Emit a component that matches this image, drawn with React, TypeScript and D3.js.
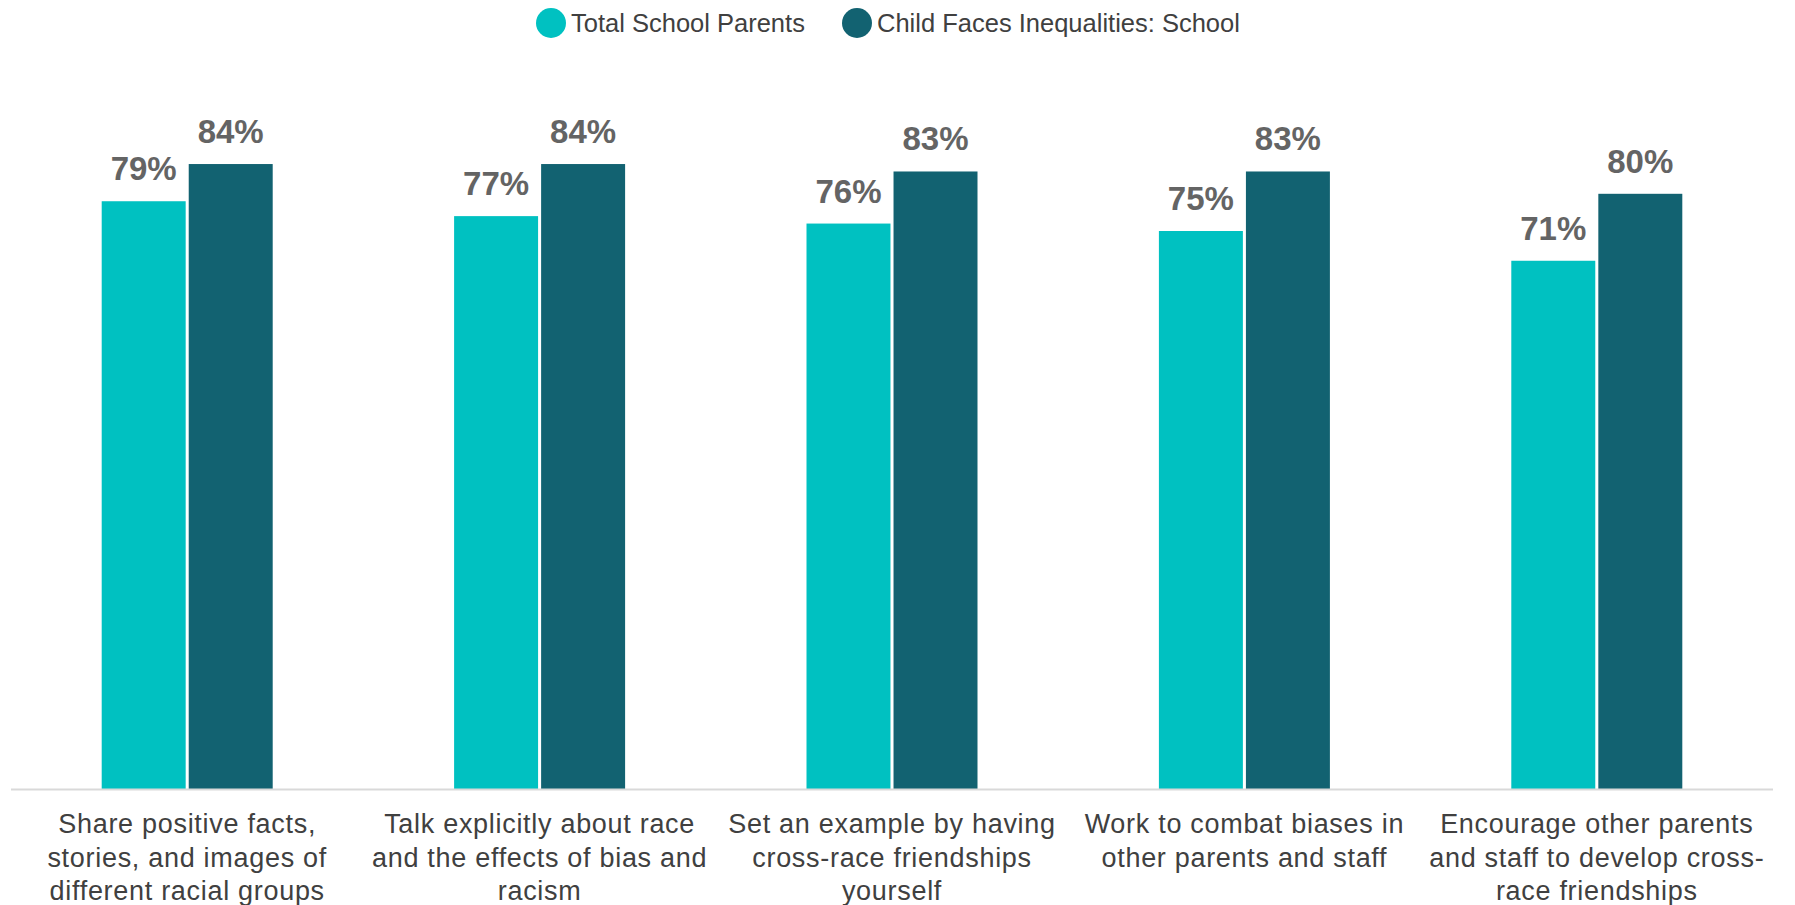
import React, { useEffect, useRef } from 'react'
import * as d3 from 'd3'

const categories = ['share', 'talk', 'example', 'combat', 'encourage']
const categoryLines: string[][] = [
  ['Share positive facts,', 'stories, and images of', 'different racial groups'],
  ['Talk explicitly about race', 'and the effects of bias and', 'racism'],
  ['Set an example by having', 'cross-race friendships', 'yourself'],
  ['Work to combat biases in', 'other parents and staff'],
  ['Encourage other parents', 'and staff to develop cross-', 'race friendships']
]
const seriesNames = ['Total School Parents', 'Child Faces Inequalities: School']
const totalSchool = [79, 77, 76, 75, 71]
const childFaces = [84, 84, 83, 83, 80]
const colors = ['#00c1c1', '#126271']

const W = 1795
const H = 905

const Chart = () => {
  const ref = useRef<SVGSVGElement>(null)

  useEffect(() => {
    const svg = d3.select(ref.current)
    svg.selectAll('*').remove()

    const baseY = 789
    const y = d3.scaleLinear().domain([0, 100]).range([baseY, baseY - 744])
    const x0 = d3.scaleBand<string>().domain(categories).range([11, 1773]).padding(0)
    const groupW = 171
    const x1 = d3.scaleBand<number>().domain([0, 1]).range([0, groupW]).paddingInner(0.035)

    const series = [totalSchool, childFaces]

    const groups = svg
      .append('g')
      .selectAll('g')
      .data(categories)
      .join('g')
      .attr('transform', d => `translate(${(x0(d) ?? 0) + (x0.bandwidth() - groupW) / 2},0)`)

    groups.each(function (cat, i) {
      const g = d3.select(this)
      series.forEach((vals, s) => {
        const v = vals[i]
        g.append('rect')
          .attr('x', x1(s) ?? 0)
          .attr('y', y(v))
          .attr('width', x1.bandwidth())
          .attr('height', baseY - y(v))
          .attr('fill', colors[s])
        g.append('text')
          .attr('x', (x1(s) ?? 0) + x1.bandwidth() / 2)
          .attr('y', y(v) - 21)
          .attr('text-anchor', 'middle')
          .attr('font-family', 'Liberation Sans, Arial, sans-serif')
          .attr('font-weight', 'bold')
          .attr('font-size', 33)
          .attr('fill', '#646464')
          .text(`${v}%`)
      })
    })

    // axis line
    svg
      .append('line')
      .attr('x1', 11)
      .attr('x2', 1773)
      .attr('y1', baseY + 0.5)
      .attr('y2', baseY + 0.5)
      .attr('stroke', '#d9d9d9')
      .attr('stroke-width', 2)

    // category labels
    categories.forEach((c, i) => {
      const t = svg
        .append('text')
        .attr('text-anchor', 'middle')
        .attr('font-family', 'Liberation Sans, Arial, sans-serif')
        .attr('font-size', 27)
        .attr('letter-spacing', 0.7)
        .attr('fill', '#404040')
      categoryLines[i].forEach((line, j) => {
        t.append('tspan')
          .attr('x', (x0(c) ?? 0) + x0.bandwidth() / 2)
          .attr('y', 833 + j * 33.5)
          .text(line)
      })
    })

    // legend
    const legendX = [551, 857]
    seriesNames.forEach((name, s) => {
      svg
        .append('circle')
        .attr('cx', legendX[s])
        .attr('cy', 23)
        .attr('r', 15)
        .attr('fill', colors[s])
      svg
        .append('text')
        .attr('x', legendX[s] + 20)
        .attr('y', 32)
        .attr('font-family', 'Liberation Sans, Arial, sans-serif')
        .attr('font-size', 25.5)
        .attr('fill', '#404040')
        .text(name)
    })
  }, [])

  return <svg ref={ref} width={W} height={H} style={{ display: 'block' }} />
}

const App = () => {
  return (
    <div style={{ position: 'absolute', left: 0, top: 0, width: W, height: H, background: '#fff' }}>
      <Chart />
    </div>
  )
}

export default App
